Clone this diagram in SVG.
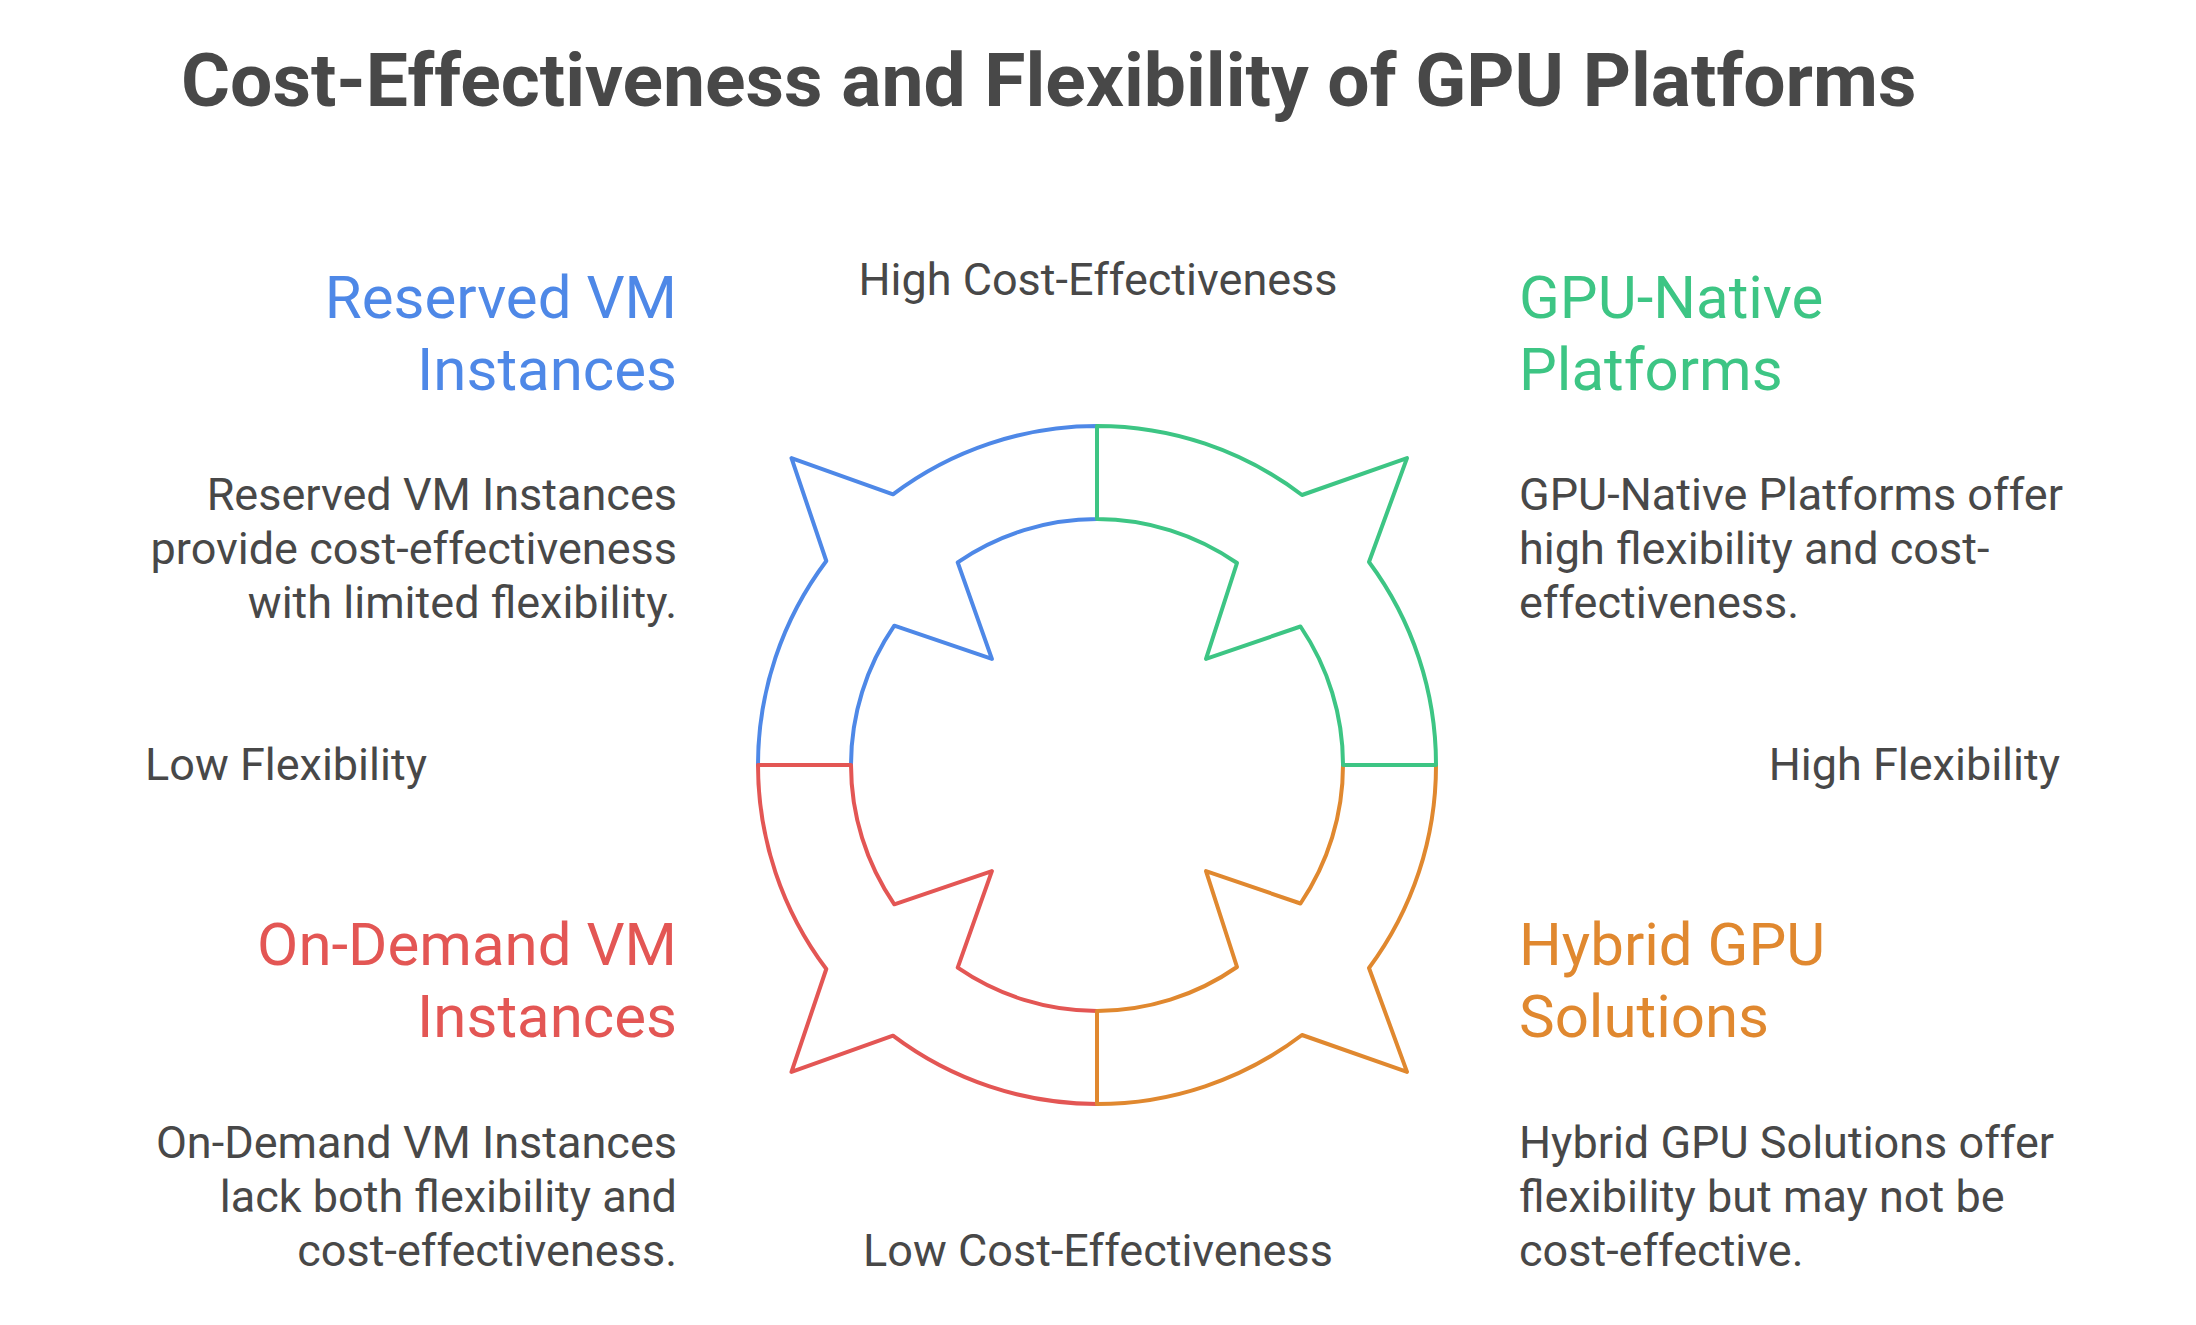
<svg xmlns="http://www.w3.org/2000/svg" width="2196" height="1325" viewBox="0 0 2196 1325">
<style>
text{font-family:Roboto,"Liberation Sans",Arial,sans-serif;fill:#484848}
.title{font-size:75px;font-weight:700}
.h{font-size:60px}
.b{font-size:45px}
.ax{font-size:45px}
.end{text-anchor:end}
.mid{text-anchor:middle}
.seg{fill:none;stroke-width:4;stroke-linejoin:round;stroke-linecap:round}
</style>
<rect width="2196" height="1325" fill="#ffffff"/>
<text class="title" x="181" y="106">Cost-Effectiveness and Flexibility of GPU Platforms</text>
<g id="connectors">
<path id="seg-blue" class="seg" stroke="#4e88e7" d="M758,765 A339,339 0 0 1 826.3,561 L791.5,458.1 L893,494.3 A339,339 0 0 1 1097,426 L1097,519 A246,246 0 0 0 957.7,562.3 L991.9,658.9 L894.3,625.7 A246,246 0 0 0 851,765 Z"/>
<path id="seg-red" class="seg" stroke="#e35654" d="M758,765 A339,339 0 0 0 826.3,969 L791.5,1071.9 L893,1035.7 A339,339 0 0 0 1097,1104 L1097,1011 A246,246 0 0 1 957.7,967.7 L991.9,871.1 L894.3,904.3 A246,246 0 0 1 851,765 Z"/>
<path id="seg-orange" class="seg" stroke="#e0882f" d="M1097,1104 A339,339 0 0 0 1302,1035 L1407,1071.9 L1369,968 A339,339 0 0 0 1436,765 L1343,765 A246,246 0 0 1 1300.5,903.5 L1206,871.1 L1237,967 A246,246 0 0 1 1097,1011 Z"/>
<path id="seg-green" class="seg" stroke="#3dc584" d="M1097,426 A339,339 0 0 1 1302,495 L1407,458.1 L1369,562 A339,339 0 0 1 1436,765 L1343,765 A246,246 0 0 0 1300.5,626.5 L1206,658.9 L1237,563 A246,246 0 0 0 1097,519 Z"/>
</g>
<g id="axis-labels">
<text class="ax mid" x="1098" y="295">High Cost-Effectiveness</text>
<text class="ax mid" x="1098" y="1266">Low Cost-Effectiveness</text>
<text class="ax" x="145" y="780">Low Flexibility</text>
<text class="ax end" x="2060" y="780">High Flexibility</text>
</g>
<g id="node-reserved">
<text class="h end" x="677" y="318" style="fill:#4e88e7">Reserved VM</text>
<text class="h end" x="677" y="390" style="fill:#4e88e7">Instances</text>
<text class="b end" x="677" y="510">Reserved VM Instances</text>
<text class="b end" x="677" y="564">provide cost-effectiveness</text>
<text class="b end" x="677" y="618">with limited flexibility.</text>
</g>
<g id="node-gpu-native">
<text class="h" x="1519" y="318" style="fill:#3dc584">GPU-Native</text>
<text class="h" x="1519" y="390" style="fill:#3dc584">Platforms</text>
<text class="b" x="1519" y="510">GPU-Native Platforms offer</text>
<text class="b" x="1519" y="564">high flexibility and cost-</text>
<text class="b" x="1519" y="618">effectiveness.</text>
</g>
<g id="node-on-demand">
<text class="h end" x="677" y="965" style="fill:#e35654">On-Demand VM</text>
<text class="h end" x="677" y="1037" style="fill:#e35654">Instances</text>
<text class="b end" x="677" y="1158">On-Demand VM Instances</text>
<text class="b end" x="677" y="1212">lack both flexibility and</text>
<text class="b end" x="677" y="1266">cost-effectiveness.</text>
</g>
<g id="node-hybrid">
<text class="h" x="1519" y="965" style="fill:#e0882f">Hybrid GPU</text>
<text class="h" x="1519" y="1037" style="fill:#e0882f">Solutions</text>
<text class="b" x="1519" y="1158">Hybrid GPU Solutions offer</text>
<text class="b" x="1519" y="1212">flexibility but may not be</text>
<text class="b" x="1519" y="1266">cost-effective.</text>
</g>
</svg>
